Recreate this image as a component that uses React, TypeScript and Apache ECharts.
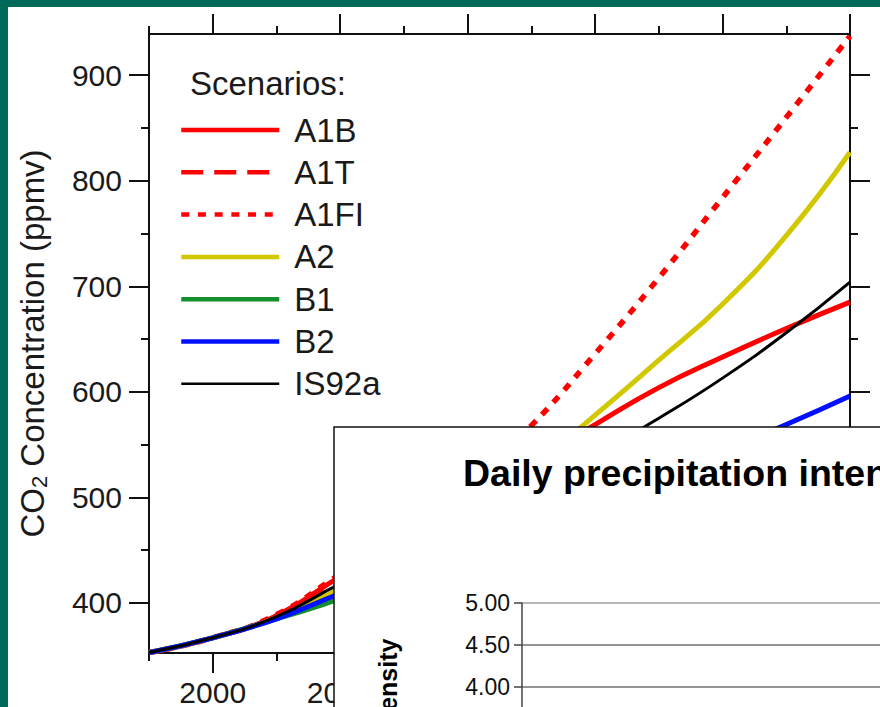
import React, { useEffect, useRef } from "react";
import * as echarts from "echarts";

// ---- data ----
const years = [1990, 2000, 2010, 2020, 2030, 2040, 2050, 2060, 2070, 2080, 2090, 2100];
const a1b = [353, 367, 388, 425, 458, 495, 533, 569, 604, 633, 660, 685];
const a1t = [353, 367, 388, 424, 456, 485, 509, 527, 541, 550, 556, 561];
const a1fi = [353, 367, 389, 427, 462, 510, 568, 636, 708, 784, 860, 937];
const a2 = [353, 367, 386, 414, 450, 487, 528, 578, 630, 683, 748, 827];
const b1 = [353, 367, 385, 404, 428, 452, 472, 489, 503, 515, 526, 535];
const b2 = [353, 367, 385, 409, 431, 454, 477, 499, 521, 544, 569, 596];
const is92a = [353, 367, 387, 418, 445, 474, 506, 540, 575, 613, 656, 704];

const scenarioNames = ["A1B", "A1T", "A1FI", "A2", "B1", "B2", "IS92a"];
const scenarioValues = [a1b, a1t, a1fi, a2, b1, b2, is92a];

const yearTicks = [2000, 2020, 2040, 2060, 2080, 2100];
const yearLabels = [2000, 2020]; // the others lie under the inset panel
const yearMinorTicks = [1990, 2010, 2030, 2050, 2070, 2090];
const co2Ticks = [400, 500, 600, 700, 800, 900];
const co2MinorTicks = [450, 550, 650, 750, 850];

const insetTitle = "Daily precipitation intensity";
const insetAxisName = "Intensity";

// ---- styles ----
const FONT = "'Liberation Sans', Arial, Helvetica, sans-serif";
const INK = "#1a1a1a";
const TEAL = "#006a5a";
const scenarioStyles: Record<string, { color: string; width: number; type: any }> = {
  A1B: { color: "#ff0000", width: 5, type: "solid" },
  A1T: { color: "#ff0000", width: 5, type: [22, 11] },
  A1FI: { color: "#ff0000", width: 5.5, type: [8, 8.7] },
  A2: { color: "#d2c800", width: 5, type: "solid" },
  B1: { color: "#12902c", width: 5, type: "solid" },
  B2: { color: "#0010ff", width: 5, type: "solid" },
  IS92a: { color: "#000000", width: 3, type: "solid" },
};

export default function App() {
  const ref = useRef<HTMLDivElement>(null);

  useEffect(() => {
    const chart = echarts.init(ref.current!, null, { renderer: "svg" });

    const axisLine = { show: true, lineStyle: { color: "#111", width: 2 } };
    const tick = (values: number[], length: number) => ({
      show: true,
      inside: false,
      length,
      customValues: values,
      lineStyle: { color: "#111", width: 2 },
    });
    const noLabel = { show: false };
    const noSplit = { show: false };

    const series: any[] = scenarioNames.map((name, i) => {
      const st = scenarioStyles[name];
      return {
        name,
        type: "line",
        xAxisIndex: 0,
        yAxisIndex: 0,
        data: years.map((y, k) => [y, scenarioValues[i][k]]),
        smooth: 0.5,
        symbol: "none",
        lineStyle: { color: st.color, width: st.width, type: st.type },
        itemStyle: { color: st.color },
        z: 2,
      };
    });

    const gridBase = { outerBoundsMode: "none", containLabel: false };

    const option: any = {
      animation: false,
      backgroundColor: "#ffffff",
      textStyle: { fontFamily: FONT },
      title: [
        {
          text: "Scenarios:",
          left: 190,
          top: 65,
          padding: 0,
          textStyle: { fontSize: 33, fontWeight: "normal", color: INK, fontFamily: FONT, lineHeight: 36 },
        },
        {
          text: insetTitle,
          left: 463,
          top: 453,
          padding: 0,
          z: 20,
          textStyle: { fontSize: 37.5, fontWeight: "bold", color: "#000", fontFamily: FONT, lineHeight: 40 },
        },
      ],
      legend: {
        data: scenarioNames.map((n) => (n === "IS92a" ? { name: n, lineStyle: { width: 2.5 } } : { name: n })),
        orient: "vertical",
        left: 179,
        top: 112,
        padding: 0,
        itemWidth: 98,
        itemHeight: 14,
        itemGap: 6.3,
        selectedMode: false,
        lineStyle: { width: 4.5 },
        itemStyle: { opacity: 0, borderWidth: 0 },
        textStyle: { fontSize: 33, color: INK, fontFamily: FONT, lineHeight: 36, padding: [0, 0, 0, 10] },
      },
      grid: [
        { ...gridBase, left: 149, top: 34, width: 701, height: 619 },
        { ...gridBase, left: 149, top: 34, width: 701, height: 619 },
        { ...gridBase, left: 522, top: 603, width: 500, height: 168 },
      ],
      xAxis: [
        {
          type: "value", gridIndex: 0, position: "bottom", min: 1990, max: 2100,
          axisLine, axisTick: tick(yearTicks, 20),
          axisLabel: {
            show: true, customValues: yearLabels, fontSize: 30, color: INK, fontFamily: FONT, margin: 24, lineHeight: 30,
            formatter: (v: number) => String(v),
          },
          splitLine: noSplit,
        },
        {
          type: "value", gridIndex: 0, position: "top", min: 1990, max: 2100,
          axisLine, axisTick: tick(yearTicks, 20), axisLabel: noLabel, splitLine: noSplit,
        },
        {
          type: "value", gridIndex: 1, position: "bottom", min: 1990, max: 2100,
          axisLine: { show: false }, axisTick: tick(yearMinorTicks, 8), axisLabel: noLabel, splitLine: noSplit,
        },
        {
          type: "value", gridIndex: 1, position: "top", min: 1990, max: 2100,
          axisLine: { show: false }, axisTick: tick(yearMinorTicks, 8), axisLabel: noLabel, splitLine: noSplit,
        },
        { type: "value", gridIndex: 2, show: false, min: 0, max: 1 },
      ],
      yAxis: [
        {
          type: "value", gridIndex: 0, position: "left", min: 352.6, max: 939,
          axisLine, axisTick: tick(co2Ticks, 20),
          axisLabel: {
            show: true, customValues: co2Ticks, fontSize: 30, color: INK, fontFamily: FONT, margin: 27,
            formatter: (v: number) => String(v),
          },
          splitLine: noSplit,
          name: "{a|CO}{s|2}{a| Concentration (ppmv)}",
          nameLocation: "middle",
          nameGap: 99,
          nameTextStyle: {
            color: INK,
            fontFamily: FONT,
            rich: {
              a: { fontSize: 33, lineHeight: 36, color: INK, fontFamily: FONT },
              s: { fontSize: 22, lineHeight: 20, verticalAlign: "bottom", color: INK, fontFamily: FONT },
            },
          },
        },
        {
          type: "value", gridIndex: 0, position: "right", min: 352.6, max: 939,
          axisLine, axisTick: tick(co2Ticks, 20), axisLabel: noLabel, splitLine: noSplit,
        },
        {
          type: "value", gridIndex: 1, position: "left", min: 352.6, max: 939,
          axisLine: { show: false }, axisTick: tick(co2MinorTicks, 8), axisLabel: noLabel, splitLine: noSplit,
        },
        {
          type: "value", gridIndex: 1, position: "right", min: 352.6, max: 939,
          axisLine: { show: false }, axisTick: tick(co2MinorTicks, 8), axisLabel: noLabel, splitLine: noSplit,
        },
        {
          type: "value", gridIndex: 2, position: "left", min: 3, max: 5, interval: 0.5, z: 20,
          axisLine: { show: true, lineStyle: { color: "#444", width: 1.5 } },
          axisTick: { show: true, inside: false, length: 8, lineStyle: { color: "#444", width: 1.5 } },
          axisLabel: {
            show: true, fontSize: 23, color: "#111", fontFamily: FONT, margin: 12,
            formatter: (v: number) => v.toFixed(2),
          },
          splitLine: {
            show: true,
            lineStyle: { color: ["#707070", "#707070", "#707070", "#707070", "#a0a0a0"], width: 1.5 },
          },
        },
      ],
      series,
      graphic: [
        {
          type: "rect",
          z: 10,
          shape: { x: 334, y: 427, width: 620, height: 400 },
          style: { fill: "#ffffff", stroke: "#111", lineWidth: 1.5 },
        },
        {
          type: "text",
          z: 20,
          x: 388,
          y: 690,
          rotation: Math.PI / 2,
          style: {
            text: insetAxisName,
            fontSize: 25,
            fontWeight: "bold",
            fontFamily: FONT,
            fill: "#000",
            align: "center",
            verticalAlign: "middle",
          },
        },
        { type: "rect", z: 100, shape: { x: 0, y: 0, width: 880, height: 7 }, style: { fill: TEAL } },
        { type: "rect", z: 100, shape: { x: 0, y: 0, width: 8, height: 707 }, style: { fill: TEAL } },
      ],
    };

    chart.setOption(option);
    return () => chart.dispose();
  }, []);

  return <div ref={ref} style={{ position: "fixed", left: 0, top: 0, width: 880, height: 707 }} />;
}
